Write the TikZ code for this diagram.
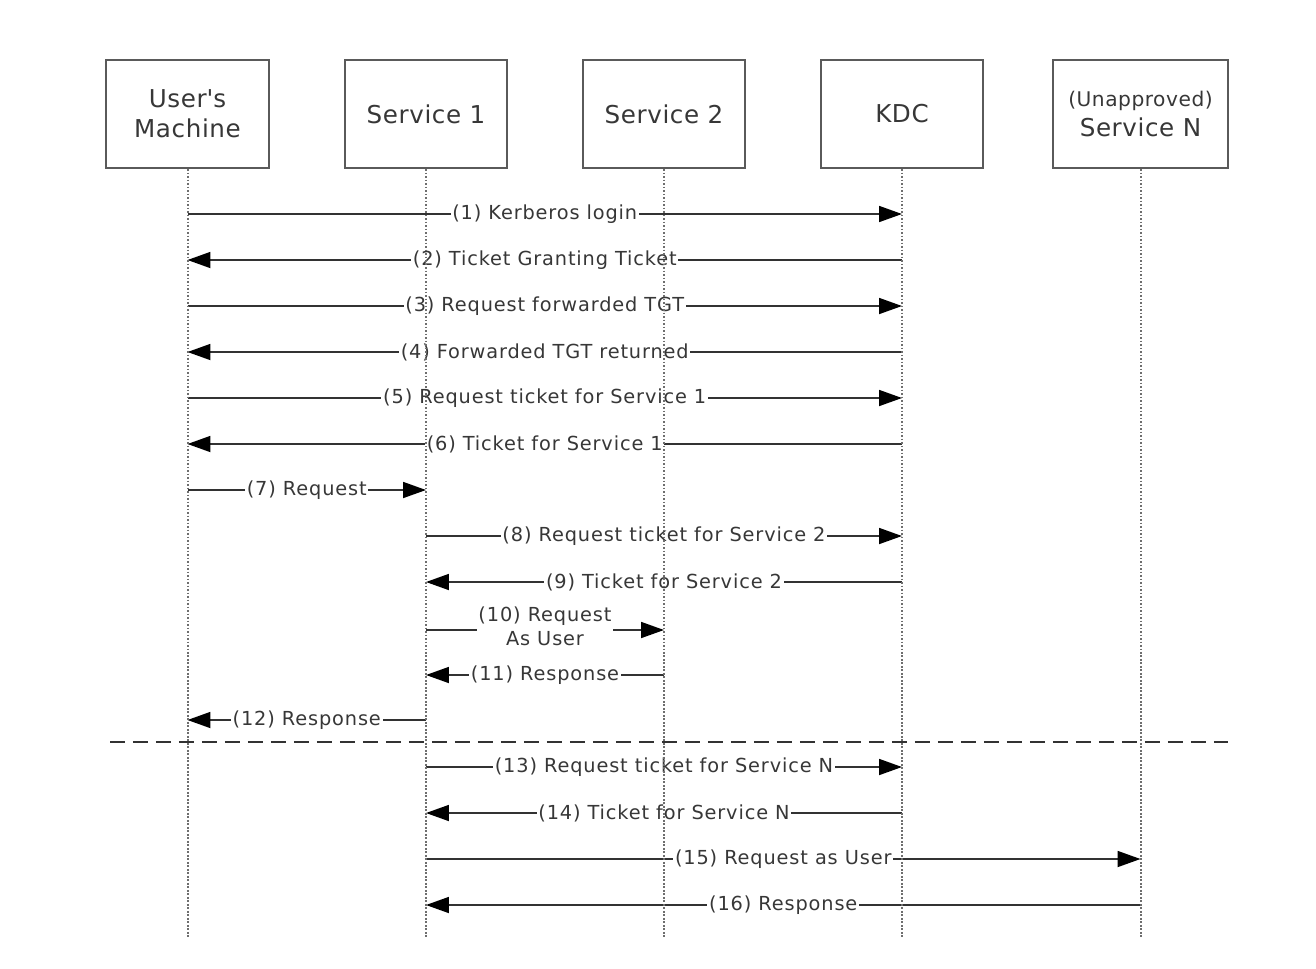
\documentclass[tikz,border=0pt]{standalone}
\usepackage{fontspec}
\setmainfont{DejaVu Sans}
\usetikzlibrary{arrows.meta}

\definecolor{linegray}{RGB}{50,50,50}
\definecolor{boxgray}{RGB}{90,90,90}
\definecolor{dotgray}{RGB}{110,110,110}
\definecolor{textgray}{RGB}{55,55,55}

\tikzset{
  actor/.style={draw=boxgray,line width=1.2pt,minimum height=2.16cm,
    align=center,text=textgray,
    font=\fontsize{14}{17}\selectfont\addfontfeatures{LetterSpace=2.5}},
  lifeline/.style={draw=dotgray,line width=0.04cm,
    dash pattern=on 0.035cm off 0.035cm},
  msg/.style={draw=linegray,line width=1pt,
    -{Triangle[length=0.46cm,width=0.32cm,color=black]}},
  lbl/.style={fill=white,inner sep=1pt,text=textgray,
    font=\fontsize{11}{13.5}\selectfont\addfontfeatures{LetterSpace=4.5},
    align=center},
}

\begin{document}
\begin{tikzpicture}[x=0.02cm,y=-0.02cm,line cap=butt]
    \useasboundingbox (0,0) rectangle (1316,968);

    % Participantes
    \node[actor,minimum width=3.26cm] (um) at (187.5,114)
        {User\textquotesingle s\\Machine};
    \node[actor,minimum width=3.24cm] (s1) at (426,114) {Service 1};
    \node[actor,minimum width=3.24cm] (s2) at (664,114) {Service 2};
    \node[actor,minimum width=3.24cm] (kdc) at (902,114) {KDC};
    \node[actor,minimum width=3.50cm] (sn) at (1140.5,114)
        {{\fontsize{11.5}{14}\selectfont (Unapproved)}\\Service N};

    % Mensajes
    \draw[msg] (um |- 0,214) -- node[lbl] {(1) Kerberos login} (kdc |- 0,214);
    \draw[msg] (kdc |- 0,260) -- node[lbl] {(2) Ticket Granting Ticket} (um |- 0,260);
    \draw[msg] (um |- 0,306) -- node[lbl] {(3) Request forwarded TGT} (kdc |- 0,306);
    \draw[msg] (kdc |- 0,352) -- node[lbl] {(4) Forwarded TGT returned} (um |- 0,352);
    \draw[msg] (um |- 0,398) -- node[lbl] {(5) Request ticket for Service 1} (kdc |- 0,398);
    \draw[msg] (kdc |- 0,444) -- node[lbl] {(6) Ticket for Service 1} (um |- 0,444);
    \draw[msg] (um |- 0,490) -- node[lbl] {(7) Request} (s1 |- 0,490);
    \draw[msg] (s1 |- 0,536) -- node[lbl] {(8) Request ticket for Service 2} (kdc |- 0,536);
    \draw[msg] (kdc |- 0,582) -- node[lbl] {(9) Ticket for Service 2} (s1 |- 0,582);
    \draw[msg] (s1 |- 0,630) -- node[lbl,yshift=2pt] {(10) Request\\As User} (s2 |- 0,630);
    \draw[msg] (s2 |- 0,675) -- node[lbl] {(11) Response} (s1 |- 0,675);
    \draw[msg] (s1 |- 0,720) -- node[lbl] {(12) Response} (um |- 0,720);

    % Separación
    \draw[linegray,line width=1pt,dash pattern=on 0.30cm off 0.16cm]
        (110,742) -- (1228,742);

    \draw[msg] (s1 |- 0,767) -- node[lbl] {(13) Request ticket for Service N} (kdc |- 0,767);
    \draw[msg] (kdc |- 0,813) -- node[lbl] {(14) Ticket for Service N} (s1 |- 0,813);
    \draw[msg] (s1 |- 0,859) -- node[lbl] {(15) Request as User} (sn |- 0,859);
    \draw[msg] (sn |- 0,905) -- node[lbl] {(16) Response} (s1 |- 0,905);

    % Líneas de vida
    \foreach \p in {um,s1,s2,kdc,sn}
        \draw[lifeline] (\p.south) -- (\p |- 0,937);
\end{tikzpicture}
\end{document}
